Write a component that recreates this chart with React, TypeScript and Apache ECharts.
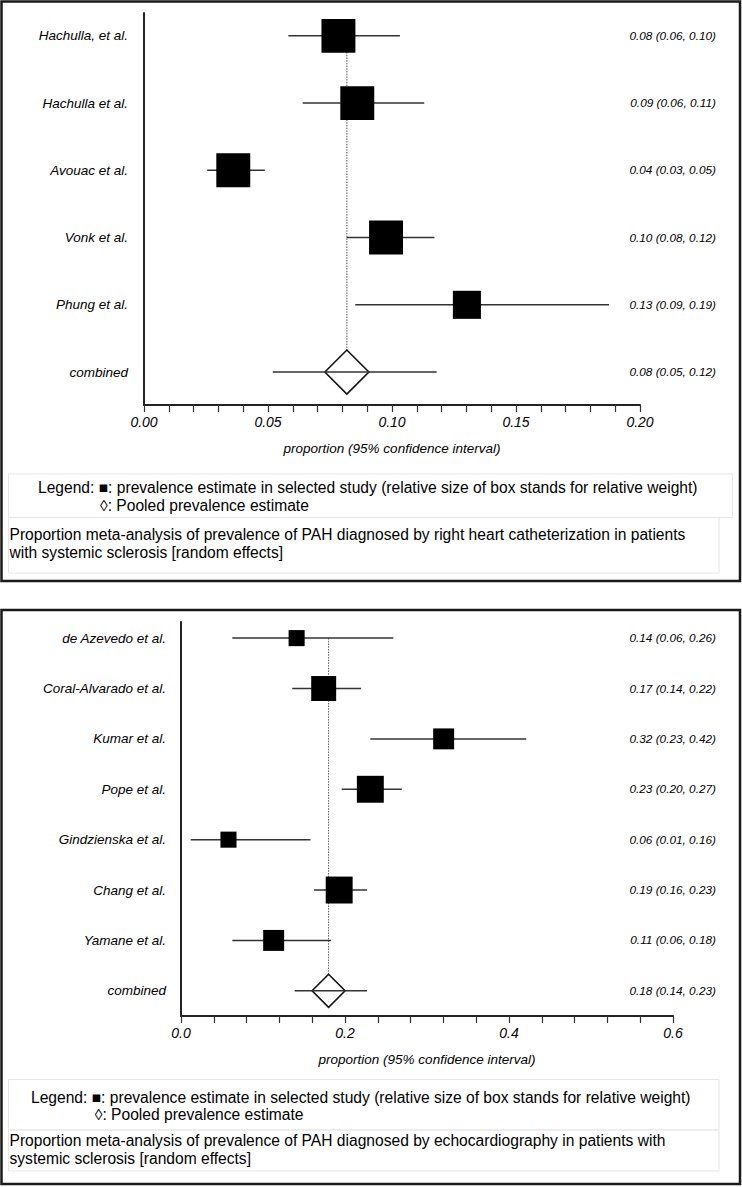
import React, { useEffect, useRef } from "react";
import * as echarts from "echarts";

// ---------- Panel 1: right heart catheterization ----------
const rhcStudies = ["Hachulla, et al.", "Hachulla et al.", "Avouac et al.", "Vonk et al.", "Phung et al."];
const rhcEstimate = [0.0784, 0.086, 0.036, 0.0976, 0.1302];
const rhcLower = [0.0582, 0.064, 0.0255, 0.0817, 0.0852];
const rhcUpper = [0.1032, 0.113, 0.0487, 0.1171, 0.1875];
const rhcWeight = [20.7, 20.7, 20.7, 20.7, 17.1];
const rhcPooled = [0.0818, 0.0519, 0.118];
const rhcAxisMax = 0.2;
const rhcAxisStep = 0.05;
const rhcTickDecimals = 2;

// ---------- Panel 2: echocardiography ----------
const echoStudies = [
  "de Azevedo et al.",
  "Coral-Alvarado et al.",
  "Kumar et al.",
  "Pope et al.",
  "Gindzienska et al.",
  "Chang et al.",
  "Yamane et al.",
];
const echoEstimate = [0.141, 0.174, 0.3203, 0.2309, 0.0579, 0.1929, 0.113];
const echoLower = [0.0626, 0.1357, 0.2309, 0.196, 0.0118, 0.1622, 0.0626];
const echoUpper = [0.2589, 0.2196, 0.421, 0.2693, 0.1578, 0.2268, 0.183];
const echoWeight = [10.5, 16.3, 13.7, 17.6, 10.5, 17.6, 13.7];
const echoPooled = [0.18, 0.1387, 0.2268];
const echoAxisMax = 0.6;
const echoAxisStep = 0.2;
const echoTickDecimals = 1;

const pooledLabel = "combined";
const axisTitle = "proportion (95% confidence interval)";
const legendLine1 = "Legend: \u25A0: prevalence estimate in selected study (relative size of box stands for relative weight)";
const legendLine2 = "\u25CA: Pooled prevalence estimate";
const rhcCaption = [
  "Proportion meta-analysis of prevalence of PAH diagnosed by right heart catheterization in patients",
  "with systemic sclerosis [random effects]",
];
const echoCaption = [
  "Proportion meta-analysis of prevalence of PAH diagnosed by echocardiography in patients with",
  "systemic sclerosis [random effects]",
];

const FONT = "'Liberation Sans', Arial, Helvetica, sans-serif";
const fmt = (v: number) => v.toFixed(2);

const LABEL_SIZE = 13.5;
const CI_SIZE = 11.8;
const TICK_SIZE = 14;
const TITLE_SIZE = 13.5;
const BOX_TEXT_SIZE = 15.6;

type Panel = {
  studies: string[];
  est: number[];
  lo: number[];
  hi: number[];
  w: number[];
  pooled: number[];
  axisMax: number;
  axisStep: number;
  dec: number;
  grid: { left: number; top: number; width: number; height: number };
  yMin: number;
  yMax: number;
  boxScale: number;
  diamond: number;
  labelGap: number;
  ciRight: number;
};

const panels: Panel[] = [
  {
    studies: rhcStudies,
    est: rhcEstimate,
    lo: rhcLower,
    hi: rhcUpper,
    w: rhcWeight,
    pooled: rhcPooled,
    axisMax: rhcAxisMax,
    axisStep: rhcAxisStep,
    dec: rhcTickDecimals,
    grid: { left: 144, top: 13, width: 496, height: 392 },
    yMin: -0.34,
    yMax: 5.49,
    boxScale: 1.64,
    diamond: 44,
    labelGap: 16,
    ciRight: 716,
  },
  {
    studies: echoStudies,
    est: echoEstimate,
    lo: echoLower,
    hi: echoUpper,
    w: echoWeight,
    pooled: echoPooled,
    axisMax: echoAxisMax,
    axisStep: echoAxisStep,
    dec: echoTickDecimals,
    grid: { left: 181, top: 622, width: 492, height: 394 },
    yMin: -0.32,
    yMax: 7.5,
    boxScale: 1.53,
    diamond: 33,
    labelGap: 15,
    ciRight: 716,
  },
];

function textStyle(text: string, align: string, size: number, italic: boolean) {
  return {
    text,
    fill: "#000",
    font: `${italic ? "italic " : ""}${size}px ${FONT}`,
    textAlign: align,
    textVerticalAlign: "middle",
    align,
    verticalAlign: "middle",
  };
}

export default function App() {
  const ref = useRef<HTMLDivElement>(null);

  useEffect(() => {
    if (!ref.current) return;
    const chart = echarts.init(ref.current, null, { renderer: "svg" });

    const grids: any[] = [];
    const xAxes: any[] = [];
    const yAxes: any[] = [];
    const series: any[] = [];

    panels.forEach((p, pi) => {
      grids.push({ left: p.grid.left, top: p.grid.top, width: p.grid.width, height: p.grid.height, containLabel: false });
      xAxes.push({
        type: "value",
        gridIndex: pi,
        min: 0,
        max: p.axisMax,
        interval: p.axisStep,
        position: "bottom",
        axisLine: { show: true, onZero: false, lineStyle: { color: "#222", width: 2 } },
        axisTick: { show: true, length: 7, lineStyle: { color: "#333", width: 1.2 } },
        minorTick: { show: true, splitNumber: 5, length: 7, lineStyle: { color: "#333", width: 1.2 } },
        splitLine: { show: false },
        minorSplitLine: { show: false },
        axisLabel: {
          margin: 10,
          color: "#000",
          fontSize: TICK_SIZE,
          fontStyle: "italic",
          fontFamily: FONT,
          formatter: (v: number) => v.toFixed(p.dec),
        },
        name: axisTitle,
        nameLocation: "middle",
        nameGap: 36,
        nameTextStyle: { color: "#000", fontSize: TITLE_SIZE, fontStyle: "italic", fontFamily: FONT },
      });
      yAxes.push({
        type: "value",
        gridIndex: pi,
        inverse: true,
        min: p.yMin,
        max: p.yMax,
        axisLine: { show: true, onZero: false, lineStyle: { color: "#222", width: 2 } },
        axisTick: { show: false },
        axisLabel: { show: false },
        splitLine: { show: false },
      });

      const n = p.studies.length;
      // pooled estimate: dotted reference line, diamond, CI
      series.push({
        type: "custom",
        xAxisIndex: pi,
        yAxisIndex: pi,
        clip: false,
        silent: true,
        z: 2,
        encode: { x: [0, 1, 2], y: 3 },
        data: [[p.pooled[0], p.pooled[1], p.pooled[2], n]],
        renderItem: (params: any, api: any) => {
          const est = api.value(0);
          const lo = api.value(1);
          const hi = api.value(2);
          const row = api.value(3);
          const c = api.coord([est, row]);
          const top = api.coord([est, 0]);
          const l = api.coord([lo, row]);
          const h = api.coord([hi, row]);
          const d = p.diamond / 2;
          const cs = params.coordSys;
          return {
            type: "group",
            children: [
              {
                type: "line",
                shape: { x1: c[0], y1: top[1], x2: c[0], y2: c[1] - d },
                style: { stroke: "#555", lineWidth: 1, lineDash: [1.5, 1.2] },
              },
              {
                type: "polygon",
                shape: { points: [[c[0] - d, c[1]], [c[0], c[1] - d], [c[0] + d, c[1]], [c[0], c[1] + d]] },
                style: { fill: "#fff", stroke: "#111", lineWidth: 1.6 },
              },
              {
                type: "line",
                shape: { x1: l[0], y1: l[1], x2: h[0], y2: h[1] },
                style: { stroke: "#333", lineWidth: 1.5 },
              },
              { type: "text", x: cs.x - p.labelGap, y: c[1], style: textStyle(pooledLabel, "right", LABEL_SIZE, true) },
              { type: "text", x: p.ciRight, y: c[1], style: textStyle(`${fmt(est)} (${fmt(lo)}, ${fmt(hi)})`, "right", CI_SIZE, true) },
            ],
          };
        },
      });
      // individual studies
      series.push({
        type: "custom",
        xAxisIndex: pi,
        yAxisIndex: pi,
        clip: false,
        silent: true,
        z: 3,
        encode: { x: [0, 1, 2], y: 3 },
        data: p.studies.map((_, i) => [p.est[i], p.lo[i], p.hi[i], i, p.w[i]]),
        renderItem: (params: any, api: any) => {
          const est = api.value(0);
          const lo = api.value(1);
          const hi = api.value(2);
          const row = api.value(3);
          const w = api.value(4);
          const c = api.coord([est, row]);
          const l = api.coord([lo, row]);
          const h = api.coord([hi, row]);
          const s = w * p.boxScale;
          const cs = params.coordSys;
          return {
            type: "group",
            children: [
              {
                type: "line",
                shape: { x1: l[0], y1: l[1], x2: h[0], y2: h[1] },
                style: { stroke: "#333", lineWidth: 1.5 },
              },
              {
                type: "rect",
                shape: { x: c[0] - s / 2, y: c[1] - s / 2, width: s, height: s },
                style: { fill: "#000" },
              },
              { type: "text", x: cs.x - p.labelGap, y: c[1], style: textStyle(p.studies[params.dataIndex], "right", LABEL_SIZE, true) },
              { type: "text", x: p.ciRight, y: c[1], style: textStyle(`${fmt(est)} (${fmt(lo)}, ${fmt(hi)})`, "right", CI_SIZE, true) },
            ],
          };
        },
      });
    });

    const boxText = (x: number, y: number, text: string) => ({
      type: "text",
      x,
      y,
      style: textStyle(text, "left", BOX_TEXT_SIZE, false),
    });

    const graphic: any[] = [
      // panel frames
      { type: "rect", shape: { x: 1.5, y: 1.5, width: 738.5, height: 579.5 }, style: { fill: "none", stroke: "#1a1a1a", lineWidth: 2.5 } },
      { type: "rect", shape: { x: 1.5, y: 610, width: 738.5, height: 574 }, style: { fill: "none", stroke: "#1a1a1a", lineWidth: 2.5 } },
      // top legend + caption boxes
      { type: "rect", shape: { x: 8.5, y: 474, width: 724, height: 43.5 }, style: { fill: "none", stroke: "#e6e6e6", lineWidth: 1 } },
      { type: "rect", shape: { x: 8.5, y: 517.5, width: 710.5, height: 55.5 }, style: { fill: "none", stroke: "#e6e6e6", lineWidth: 1 } },
      boxText(38, 487, legendLine1),
      boxText(100, 505, legendLine2),
      boxText(9.5, 534, rhcCaption[0]),
      boxText(9.5, 552, rhcCaption[1]),
      // bottom legend + caption boxes
      { type: "rect", shape: { x: 8.5, y: 1079.5, width: 710.5, height: 50.5 }, style: { fill: "none", stroke: "#e6e6e6", lineWidth: 1 } },
      { type: "rect", shape: { x: 8.5, y: 1130, width: 710.5, height: 41 }, style: { fill: "none", stroke: "#e6e6e6", lineWidth: 1 } },
      boxText(31, 1097, legendLine1),
      boxText(94.7, 1114.5, legendLine2),
      boxText(9.5, 1140, echoCaption[0]),
      boxText(9.5, 1158, echoCaption[1]),
    ];

    chart.setOption({
      animation: false,
      backgroundColor: "#fff",
      grid: grids,
      xAxis: xAxes,
      yAxis: yAxes,
      series,
      graphic,
    });

    return () => chart.dispose();
  }, []);

  return (
    <div
      ref={ref}
      style={{ position: "absolute", left: 0, top: 0, width: 742, height: 1187, background: "#fff" }}
    />
  );
}
